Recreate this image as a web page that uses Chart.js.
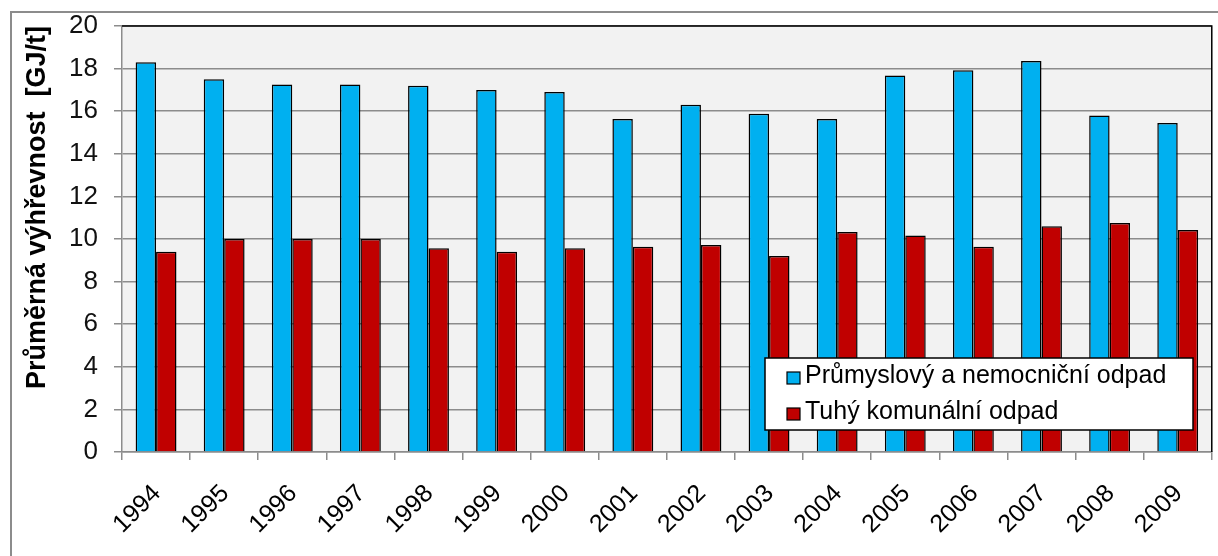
<!DOCTYPE html>
<html>
<head>
<meta charset="utf-8">
<script src="https://cdn.jsdelivr.net/npm/chart.js@4/dist/chart.umd.min.js"></script>
<style>
  html, body { margin: 0; padding: 0; background: #fff; }
  #wrap { position: relative; width: 1218px; height: 556px; }
</style>
</head>
<body>
<div id="wrap"><canvas id="chart" width="1218" height="556"></canvas></div>
<script>
// data
const years = ['1994', '1995', '1996', '1997', '1998', '1999', '2000', '2001',
    '2002', '2003', '2004', '2005', '2006', '2007', '2008', '2009'];
const prumyslovy = [18.3, 17.5, 17.25, 17.25, 17.2, 17.0, 16.9, 15.63,
    16.3, 15.88, 15.63, 17.68, 17.92, 18.36, 15.8, 15.45];
const komunalni = [9.4, 10.0, 10.0, 10.0, 9.56, 9.4, 9.56, 9.64,
    9.72, 9.2, 10.33, 10.17, 9.64, 10.6, 10.75, 10.42];
const seriesNames = ['Průmyslový a nemocniční odpad', 'Tuhý komunální odpad'];
const yMin = 0, yMax = 20, yStep = 2;

const FONT = "'Liberation Sans', Arial, sans-serif";

// grey frame round the whole chart + plot area background/border
const framePlugin = {
    id: 'frame',
    beforeDraw(chart) {
        const ctx = chart.ctx;
        const a = chart.chartArea;
        ctx.save();
        ctx.strokeStyle = '#8c8c8c';
        ctx.lineWidth = 2;
        ctx.strokeRect(11, 12, 1240, 600);
        ctx.fillStyle = '#f2f2f2';
        ctx.fillRect(a.left, a.top, a.right - a.left, a.bottom - a.top);
        ctx.restore();
    },
    afterDraw(chart) {
        const ctx = chart.ctx;
        const a = chart.chartArea;
        ctx.save();
        ctx.strokeStyle = '#000';
        ctx.lineWidth = 1.5;
        ctx.beginPath();
        ctx.moveTo(a.left, a.top);
        ctx.lineTo(a.right, a.top);
        ctx.lineTo(a.right, a.bottom);
        ctx.stroke();
        ctx.restore();
    }
};

// legend box drawn inside the plot, like the original
const boxLegend = {
    id: 'boxLegend',
    afterDatasetsDraw(chart) {
        const ctx = chart.ctx;
        const x = 765, y = 358, w = 428, h = 72;
        ctx.save();
        ctx.fillStyle = '#fff';
        ctx.fillRect(x, y, w, h);
        ctx.strokeStyle = '#000';
        ctx.lineWidth = 1.5;
        ctx.strokeRect(x, y, w, h);
        ctx.font = '25px ' + FONT;
        ctx.textBaseline = 'alphabetic';
        chart.data.datasets.forEach(function (ds, i) {
            const top = y + 14 + i * 36;
            ctx.fillStyle = ds.backgroundColor;
            ctx.fillRect(x + 22, top, 13, 12);
            ctx.strokeStyle = '#000';
            ctx.lineWidth = 1.2;
            ctx.strokeRect(x + 22, top, 13, 12);
            ctx.fillStyle = '#000';
            ctx.fillText(ds.label, x + 40, top + 11);
        });
        ctx.restore();
    }
};

new Chart(document.getElementById('chart'), {
    type: 'bar',
    data: {
        labels: years,
        datasets: [{
            label: seriesNames[0],
            data: prumyslovy,
            backgroundColor: '#00b0f0',
            borderColor: '#000',
            borderWidth: 1.5,
            barPercentage: 1.0,
            categoryPercentage: 0.6
        }, {
            label: seriesNames[1],
            data: komunalni,
            backgroundColor: '#c00000',
            borderColor: '#000',
            borderWidth: 1.5,
            barPercentage: 1.0,
            categoryPercentage: 0.6
        }]
    },
    options: {
        responsive: false,
        animation: false,
        layout: { padding: { top: 26, right: 2, bottom: 0, left: 0 } },
        plugins: {
            legend: { display: false },
            tooltip: { enabled: false }
        },
        scales: {
            x: {
                afterFit: function (scale) { scale.height = 104; },
                border: { display: true, color: '#8c8c8c', width: 1.5 },
                grid: {
                    offset: true,
                    drawOnChartArea: false,
                    drawTicks: true,
                    tickLength: 8,
                    color: '#8c8c8c',
                    lineWidth: 1.5
                },
                ticks: {
                    autoSkip: false,
                    minRotation: 45,
                    maxRotation: 45,
                    padding: 19,
                    labelOffset: 1,
                    color: '#000',
                    font: { family: FONT, size: 25 }
                }
            },
            y: {
                min: yMin,
                max: yMax,
                afterFit: function (scale) {
                    scale.width = 122;
                    scale.paddingTop = 0;
                    scale.paddingBottom = 0;
                },
                border: { display: true, color: '#8c8c8c', width: 1.5 },
                grid: {
                    color: '#8c8c8c',
                    lineWidth: 1.5,
                    tickLength: 8
                },
                ticks: {
                    stepSize: yStep,
                    padding: 16,
                    color: '#111',
                    font: { family: FONT, size: 26 }
                },
                title: {
                    display: true,
                    text: 'Průměrná výhřevnost  [GJ/t]',
                    align: 'end',
                    color: '#000',
                    padding: { top: 21, bottom: 0 },
                    font: { family: FONT, size: 27, weight: 'bold' }
                }
            }
        }
    },
    plugins: [framePlugin, boxLegend]
});
</script>
</body>
</html>
